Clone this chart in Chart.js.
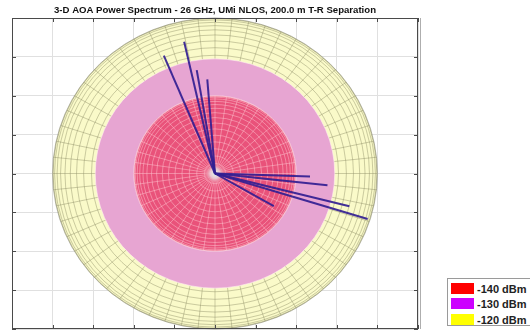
<!DOCTYPE html>
<html>
<head>
<meta charset="utf-8">
<script src="https://cdn.jsdelivr.net/npm/chart.js@4.4.1/dist/chart.umd.min.js"></script>
<style>
  html, body { margin: 0; padding: 0; background: #fff; }
  #wrap { position: relative; width: 530px; height: 331px; overflow: hidden; }
  #legend { position: absolute; left: 447px; top: 278px; width: 90px; height: 48px;
    border: 1px solid #9a9a9a; background: #fff; box-sizing: border-box;
    font: bold 11px "Liberation Sans", Arial, sans-serif; color: #222; }
  .row { position: absolute; left: 3px; height: 12px; line-height: 12px; white-space: nowrap; }
  .sw { display: inline-block; width: 23px; height: 11px; vertical-align: top; margin-right: 3px; }
</style>
</head>
<body>
<div id="wrap">
  <canvas id="c" width="530" height="331"></canvas>
  <div id="legend"></div>
</div>
<script>
// ---- data ----
const titleText = '3-D AOA Power Spectrum - 26 GHz, UMi NLOS, 200.0 m T-R Separation';
const levelLabels = ['-140 dBm', '-130 dBm', '-120 dBm'];
const levelColors = ['#FF0000', '#CC00FF', '#FFFF00'];
const shellRadii = [2.0, 2.95, 4.0];           // inner red, pink, outer yellow (axis units)
const shellFills = ['#E9527A', '#E7A5D2', '#FAFAC9'];
const shellMesh  = ['rgba(255,200,210,0.6)', null, 'rgba(140,140,100,0.55)'];
const meshLon    = [44, 0, 60];
const meshLatDeg = [5.5, 0, 4.5];
const rayEndX = [-1.26, -0.76, -0.45, -0.19, 2.34, 2.77, 3.31, 3.76, 1.45];
const rayEndY = [ 3.03,  3.39,  2.66,  2.42, -0.08, -0.30, -0.84, -1.17, -0.84];
const xTicks = [-5, -4, -3, -2, -1, 0, 1, 2, 3, 4, 5];
const yTicks = [-4, -3, -2, -1, 0, 1, 2, 3, 4];

// legend (HTML, real text)
const lg = document.getElementById('legend');
levelLabels.forEach((t, i) => {
  const r = document.createElement('div');
  r.className = 'row';
  r.style.top = (3.5 + i * 15.7) + 'px';
  r.innerHTML = '<span class="sw" style="background:' + levelColors[i] + '"></span>' + t;
  lg.appendChild(r);
});

const shellPlugin = {
  id: 'shells',
  beforeDatasetsDraw(chart) {
    const ctx = chart.ctx, xs = chart.scales.x, ys = chart.scales.y;
    const cx = xs.getPixelForValue(0), cy = ys.getPixelForValue(0);
    for (let i = shellRadii.length - 1; i >= 0; i--) {
      const r = shellRadii[i];
      const rx = xs.getPixelForValue(r) - cx, ry = cy - ys.getPixelForValue(r);
      ctx.save();
      ctx.beginPath();
      ctx.ellipse(cx, cy, rx, ry, 0, 0, Math.PI * 2);
      ctx.fillStyle = shellFills[i];
      ctx.fill();
      ctx.clip();
      if (shellMesh[i]) {
        const latStep = meshLatDeg[i] * Math.PI / 180, lonN = meshLon[i];
        ctx.strokeStyle = shellMesh[i];
        ctx.lineWidth = 0.8;
        for (let a = latStep; a < Math.PI / 2; a += latStep) {
          const k = Math.cos(a);
          ctx.beginPath();
          ctx.ellipse(cx, cy, rx * k, ry * k, 0, 0, Math.PI * 2);
          ctx.stroke();
        }
        for (let j = 0; j < lonN; j++) {
          const t = j * 2 * Math.PI / lonN;
          ctx.beginPath();
          ctx.moveTo(cx, cy);
          ctx.lineTo(cx + rx * Math.cos(t), cy + ry * Math.sin(t));
          ctx.stroke();
        }
      }
      ctx.restore();
      ctx.save();
      ctx.beginPath();
      ctx.ellipse(cx, cy, rx, ry, 0, 0, Math.PI * 2);
      ctx.strokeStyle = i === 2 ? 'rgba(120,120,100,0.7)' : 'rgba(255,240,240,0.6)';
      ctx.lineWidth = i === 2 ? 0.8 : 1;
      ctx.stroke();
      ctx.restore();
    }
    // bright pole at the centre
    const g = ctx.createRadialGradient(cx, cy, 0, cx, cy, 11);
    g.addColorStop(0, 'rgba(222,238,232,1)');
    g.addColorStop(0.45, 'rgba(230,215,222,0.75)');
    g.addColorStop(1, 'rgba(233,85,122,0)');
    ctx.save();
    ctx.fillStyle = g;
    ctx.beginPath();
    ctx.arc(cx, cy, 11, 0, Math.PI * 2);
    ctx.fill();
    ctx.restore();
  },
  afterDraw(chart) {
    const ctx = chart.ctx, a = chart.chartArea, xs = chart.scales.x, ys = chart.scales.y;
    ctx.save();
    ctx.strokeStyle = '#4a4a4a';
    ctx.lineWidth = 1;
    ctx.strokeRect(Math.round(a.left) + 0.5, Math.round(a.top) + 0.5,
                   Math.round(a.right - a.left) - 1, Math.round(a.bottom - a.top) - 1);
    ctx.beginPath();
    xTicks.forEach(v => {
      const p = Math.round(xs.getPixelForValue(v)) + 0.5;
      ctx.moveTo(p, a.top); ctx.lineTo(p, a.top + 4);
      ctx.moveTo(p, a.bottom); ctx.lineTo(p, a.bottom - 4);
    });
    yTicks.forEach(v => {
      const p = Math.round(ys.getPixelForValue(v)) + 0.5;
      ctx.moveTo(a.left, p); ctx.lineTo(a.left + 4, p);
      ctx.moveTo(a.right, p); ctx.lineTo(a.right - 4, p);
    });
    ctx.stroke();
    ctx.strokeStyle = 'rgba(120,120,120,0.6)';
    ctx.beginPath();
    ctx.moveTo(Math.round(a.right) + 2.5, a.top); ctx.lineTo(Math.round(a.right) + 2.5, a.bottom);
    ctx.stroke();
    ctx.restore();
  }
};

const datasets = rayEndX.map((ex, i) => ({
  data: [{ x: 0, y: 0 }, { x: ex, y: rayEndY[i] }],
  showLine: true,
  borderColor: 'rgba(50,30,145,0.92)',
  borderWidth: 2,
  pointRadius: 0,
  fill: false
}));

new Chart(document.getElementById('c'), {
  type: 'scatter',
  data: { datasets },
  options: {
    responsive: false,
    animation: false,
    layout: { padding: { left: 12, right: 112, top: 0, bottom: 2 } },
    plugins: {
      legend: { display: false },
      tooltip: { enabled: false },
      title: {
        display: true,
        text: titleText,
        color: '#111',
        align: 'center',
        font: { family: '"Liberation Sans", Arial, sans-serif', size: 9.6, weight: 'bold', lineHeight: 1.25 },
        padding: { top: 4, bottom: 2 }
      }
    },
    scales: {
      x: {
        min: -5, max: 5,
        afterBuildTicks: s => { s.ticks = xTicks.map(v => ({ value: v })); },
        ticks: { display: false },
        grid: { color: '#E0E0E0', drawTicks: false },
        border: { display: false }
      },
      y: {
        min: -4, max: 4,
        afterBuildTicks: s => { s.ticks = yTicks.map(v => ({ value: v })); },
        ticks: { display: false },
        grid: { color: '#E0E0E0', drawTicks: false },
        border: { display: false }
      }
    }
  },
  plugins: [shellPlugin]
});
</script>
</body>
</html>
